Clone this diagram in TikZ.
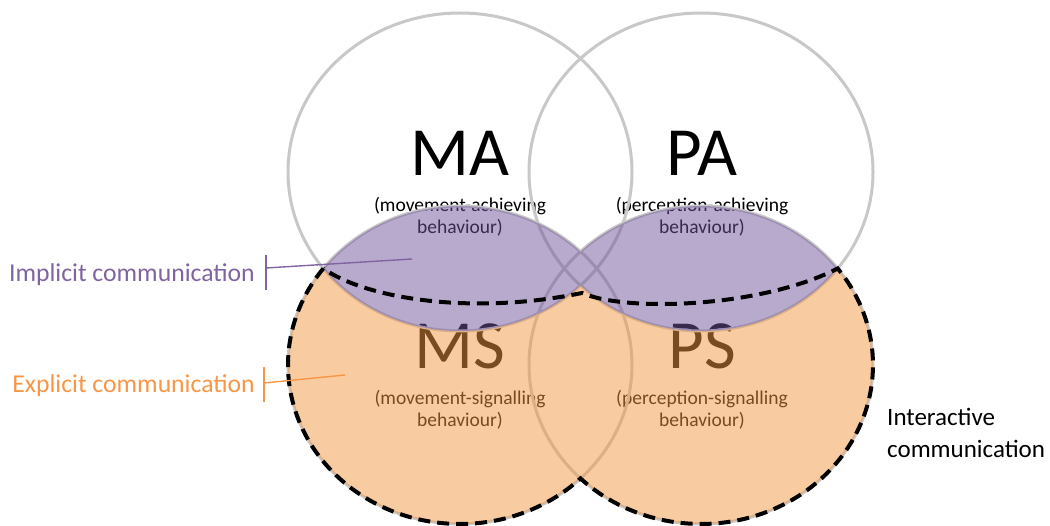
\documentclass[tikz,border=0pt]{standalone}
\usepackage{fontspec}
\setmainfont{Carlito}
\definecolor{ringgray}{RGB}{200,200,200}
\definecolor{fillorange}{RGB}{241,151,65}
\definecolor{fillpurple}{RGB}{113,85,155}
\definecolor{implicitpurple}{RGB}{128,100,162}
\definecolor{explicitorange}{RGB}{247,150,70}

\begin{document}
\begin{tikzpicture}[x=1pt,y=-1pt,
  bigletters/.style={font=\fontsize{69}{80}\selectfont, inner sep=0pt, anchor=base},
  sublabel/.style={font=\fontsize{19.5}{23}\selectfont, text=black, inner sep=0pt, anchor=base},
  sidelabel/.style={font=\fontsize{25.7}{31}\selectfont, inner sep=0pt},
  ring/.style={draw=ringgray, line width=3pt},
  leader/.style={line width=1.4pt},
  boundary/.style={draw=black, line width=4pt, dash pattern=on 12pt off 7pt}
]
\useasboundingbox (0,0) rectangle (1050,526);

% ---- behaviour names (drawn first, the tinted areas lie over them)
\node[bigletters] (ma) at (460,176) {MA};
\node[sublabel] (maA) at (460,212) {(movement-achieving};
\node[sublabel] (maB) at (460,234) {behaviour)};

\node[bigletters] (pa) at (702,176) {PA};
\node[sublabel] (paA) at (702,212) {(perception-achieving};
\node[sublabel] (paB) at (702,234) {behaviour)};

\node[bigletters] (ms) at (460,369) {MS};
\node[sublabel] (msA) at (460,405) {(movement-signalling};
\node[sublabel] (msB) at (460,427) {behaviour)};

\node[bigletters] (ps) at (702,369) {PS};
\node[sublabel] (psA) at (702,405) {(perception-signalling};
\node[sublabel] (psB) at (702,427) {behaviour)};

% ---- the four behaviour rings
\draw[ring] (460,172) ellipse [x radius=172pt, y radius=159pt];
\draw[ring] (701,172) ellipse [x radius=172pt, y radius=159pt];
\draw[ring] (460,365) ellipse [x radius=172pt, y radius=159pt];
\draw[ring] (701,365) ellipse [x radius=172pt, y radius=159pt];

% ---- explicit area: signalling rings outside the achieving rings
\begin{scope}[even odd rule]
  \clip (0,0) rectangle (1050,526)
    (460,172) ellipse [x radius=172pt, y radius=159pt];
  \clip (0,0) rectangle (1050,526)
    (701,172) ellipse [x radius=172pt, y radius=159pt];
  \fill[nonzero rule, fillorange, fill opacity=0.5]
    (460,365) ellipse [x radius=172pt, y radius=159pt]
    (701,365) ellipse [x radius=172pt, y radius=159pt];
\end{scope}

% ---- implicit area: achieving rings inside the signalling rings
\begin{scope}[nonzero rule]
  \clip (460,365) ellipse [x radius=172pt, y radius=159pt]
        (701,365) ellipse [x radius=172pt, y radius=159pt];
  \fill[fillpurple, fill opacity=0.5]
    (460,172) ellipse [x radius=172pt, y radius=159pt]
    (701,172) ellipse [x radius=172pt, y radius=159pt];
\end{scope}

% ---- interactive communication outline
\coordinate (leftMeet) at (323.3,268.5);
\coordinate (midMeet) at (582,293);
\draw[boundary]
  (leftMeet) arc [start angle=142.64, end angle=314.47, x radius=172pt, y radius=159pt]
             arc [start angle=225.53, end angle=397.36, x radius=172pt, y radius=159pt]
  .. controls (760,308) and (625,312) .. (midMeet)
  .. controls (470,316) and (365,298) .. (leftMeet);

\node[font=\fontsize{25}{31}\selectfont, inner sep=0pt, anchor=base west] (inter1) at (887,426) {Interactive};
\node[font=\fontsize{25}{31}\selectfont, inner sep=0pt, anchor=base west] (inter2) at (887,457) {communication};

% ---- side labels with their leaders
\node[sidelabel, text=implicitpurple, anchor=base east] (implicit) at (255,282) {Implicit communication};
\coordinate (impTop) at (266,255);
\coordinate (impBot) at (266,290);
\coordinate (impTick) at (266,268);
\coordinate (impEnd) at (412,259);
\draw[leader, implicitpurple] (impTop) -- (impBot);
\draw[leader, implicitpurple] (impTick) -- (impEnd);

\node[sidelabel, text=explicitorange, anchor=base east] (explicit) at (255,393) {Explicit communication};
\coordinate (expTop) at (264,367);
\coordinate (expBot) at (264,402);
\coordinate (expTick) at (264,383);
\coordinate (expEnd) at (345,375);
\draw[leader, explicitorange] (expTop) -- (expBot);
\draw[leader, explicitorange] (expTick) -- (expEnd);
\end{tikzpicture}
\end{document}
